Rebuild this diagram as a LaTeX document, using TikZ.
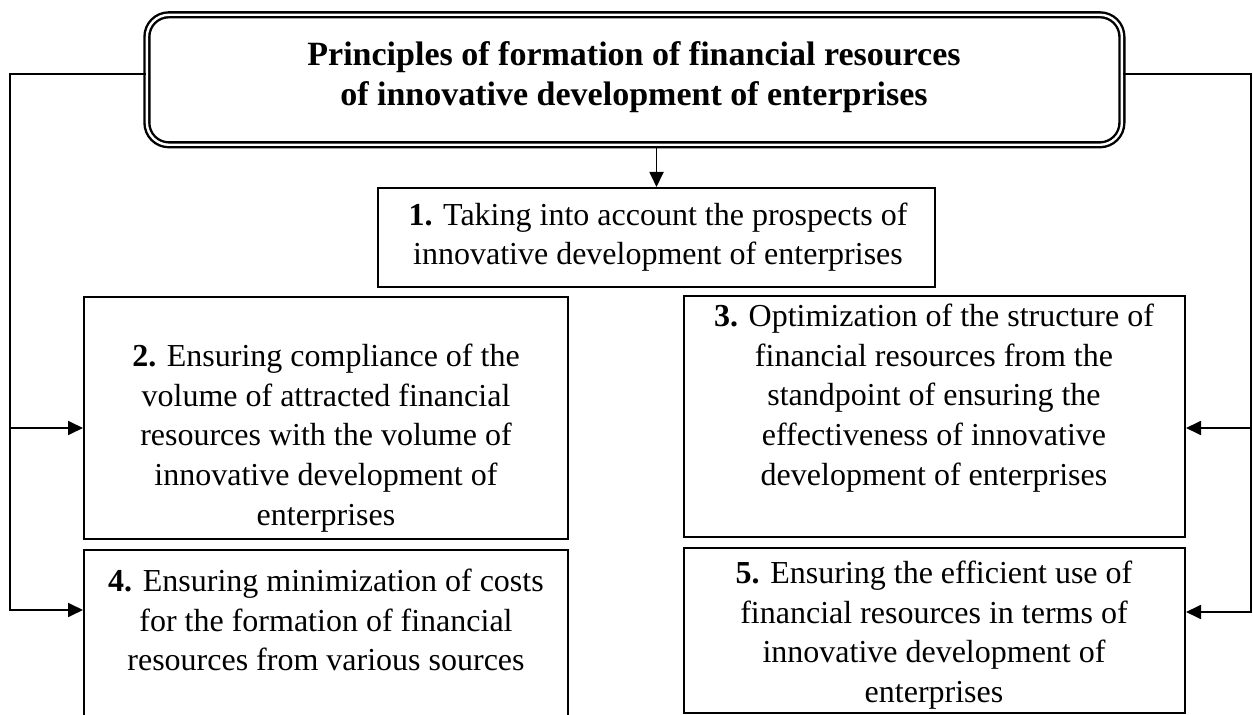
\documentclass[tikz,border=0pt]{standalone}
\usepackage{fontspec}
\setmainfont{Liberation Serif}
\usetikzlibrary{arrows.meta, positioning}
\tikzset{
    every picture/.style={
        >={Triangle[length=7.5pt,width=7pt]},
        x=0.5pt, y=-0.5pt
    },
    % Box styles
    headbox/.style={rectangle,draw,double,double distance=1.2pt,line width=1.2pt,rounded corners=11pt,minimum width=487.5pt,minimum height=65pt},
    principle/.style={rectangle,draw,line width=1pt,inner sep=0pt},
    txt/.style={align=center,inner sep=0pt,font=\fontsize{16}{19.8}\selectfont},
    % Flow style
    link/.style={line width=0.9pt}
}

\begin{document}
\begin{tikzpicture}
    \useasboundingbox (0,0) rectangle (1253,715);
    \clip (0,0) rectangle (1253,715);

    % Main heading
    \node[headbox] (title) at (634.4,79.8) {};
    \node[txt, font=\fontsize{17}{20}\selectfont\bfseries] (ttitle) at (634,77)
        {Principles of formation of financial resources\\of innovative development of enterprises};

    % Principle boxes
    \node[principle, minimum width=278.5pt, minimum height=49.5pt] (b1) at (656.5,237.5) {};
    \node[principle, minimum width=242pt, minimum height=121pt] (b2) at (326,418) {};
    \node[principle, minimum width=250.5pt, minimum height=120.5pt] (b3) at (934.5,416.5) {};
    \node[principle, minimum width=242pt, minimum height=105pt] (b4) at (326,655) {};
    \node[principle, minimum width=250.5pt, minimum height=82.5pt] (b5) at (934.5,630.5) {};

    % Principle texts
    \node[txt] (t1) at (658,237) {\textbf{1.} Taking into account the prospects of\\innovative development of enterprises};
    \node[txt] (t2) at (326,438) {\textbf{2.} Ensuring compliance of the\\volume of attracted financial\\resources with the volume of\\innovative development of\\enterprises};
    \node[txt] (t3) at (934,398) {\textbf{3.} Optimization of the structure of\\financial resources from the\\standpoint of ensuring the\\effectiveness of innovative\\development of enterprises};
    \node[txt] (t4) at (326,620) {\textbf{4.} Ensuring minimization of costs\\for the formation of financial\\resources from various sources};
    \node[txt] (t5) at (934,635) {\textbf{5.} Ensuring the efficient use of\\financial resources in terms of\\innovative development of\\enterprises};

    % Side buses
    \coordinate (lt) at (10,74);
    \coordinate (la) at (10,428);
    \coordinate (lb) at (10,610);
    \coordinate (rt) at (1251,74);
    \coordinate (ra) at (1251,428);
    \coordinate (rb) at (1251,612);

    % Connectors
    \draw[link, ->] (b1.north |- title.south) -- (b1.north);
    \draw[link, ->] (title.west |- lt) -- (lt) -- (lb) -- (lb -| b4.west);
    \draw[link, ->] (la) -- (la -| b2.west);
    \draw[link, ->] (title.east |- rt) -- (rt) -- (rb) -- (rb -| b5.east);
    \draw[link, ->] (ra) -- (ra -| b3.east);
\end{tikzpicture}
\end{document}
